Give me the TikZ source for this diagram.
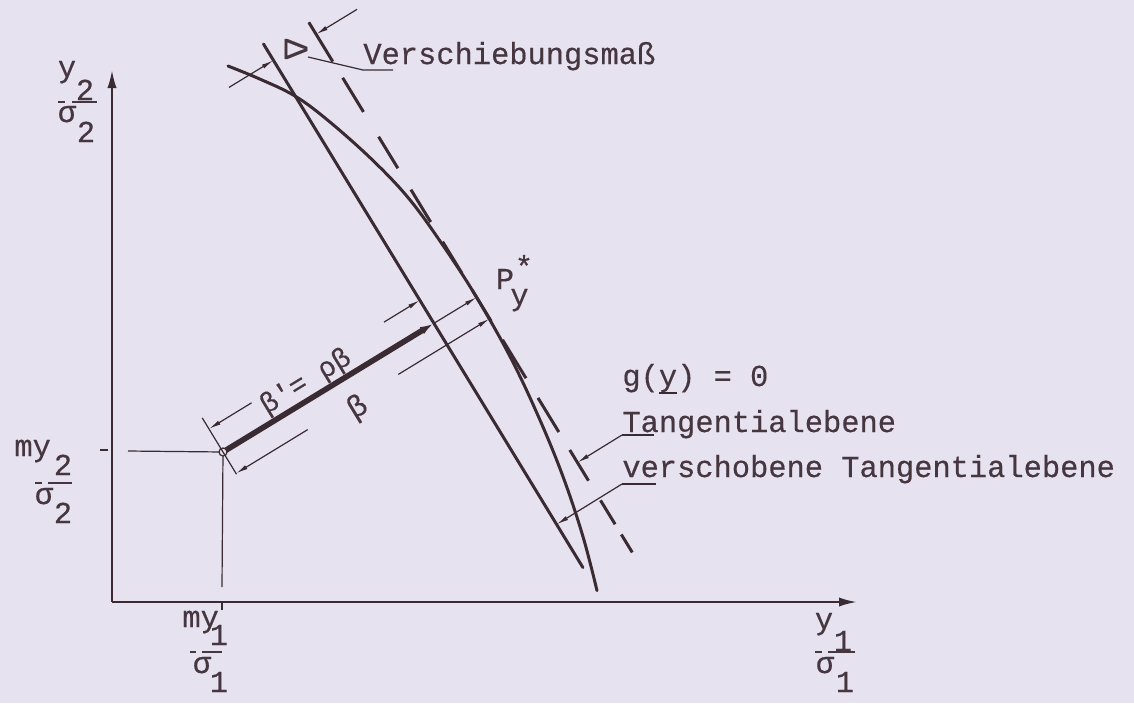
\documentclass[tikz,border=0pt]{standalone}
\usepackage{fontspec}
\setmainfont[FakeBold=0.4]{Liberation Mono}
\usetikzlibrary{arrows.meta,calc}
\definecolor{bg}{HTML}{E6E2F0}
\definecolor{ink}{HTML}{3A2A31}
\definecolor{txt}{HTML}{46363F}
\begin{document}
\begin{tikzpicture}[x=0.5pt,y=-0.5pt,
  axisline/.style={draw=ink, line width=1.1pt, -{Latex[length=9pt,width=4.6pt]}},
  mainline/.style={draw=ink, line width=1.5pt, line cap=round},
  thinline/.style={draw=ink, line width=0.6pt},
  dimarrow/.style={draw=ink, line width=0.6pt, -{Latex[length=6pt,width=2.2pt]}},
  barline/.style={draw=txt, line width=0.9pt},
  lbl/.style={text=txt, inner sep=0pt, font=\fontsize{15.2}{18}\selectfont},
]
\fill[bg] (0,0) rectangle (1134,703);
\useasboundingbox (0,0) rectangle (1134,703);

% key points
\coordinate (O) at (112,602);
\coordinate (Ytip) at (112,70);
\coordinate (Xtip) at (857,602);
\coordinate (m) at (223,452);
\coordinate (S) at (433.9,323.3);
\coordinate (P) at (476.6,297.3);
\coordinate (Stop) at (263.5,44.0);
\coordinate (Sbot) at (582.9,567.5);
\coordinate (Ttop) at (308.8,22.3);
\coordinate (Tbot) at (632.4,552.6);
\coordinate (E1) at (202.2,417.8);
\coordinate (E2) at (236.5,474.2);
\coordinate (B0) at (208.9,428.9);
\coordinate (B1) at (251.6,402.8);
\coordinate (B2) at (384,322.1);
\coordinate (B3) at (419.8,300.2);
\coordinate (C0) at (236,473.4);
\coordinate (C1) at (307.7,429.6);
\coordinate (C2) at (398.3,374.4);
\coordinate (C3) at (489.6,318.7);
\coordinate (D1) at (229,87.4);
\coordinate (D2) at (273.4,60.3);
\coordinate (D3) at (357.1,9.3);
\coordinate (D4) at (316.1,34.3);
\coordinate (hL) at (128,451);
\coordinate (vB) at (222,587);
\coordinate (tY1) at (100,450);
\coordinate (tY2) at (108,450);
\coordinate (tX1) at (222,603);
\coordinate (tX2) at (222,610);

% axes
\draw[axisline] (O) -- (Ytip);
\draw[axisline] (O) -- (Xtip);
\draw[thinline] (tY1) -- (tY2);
\draw[thinline] (tX1) -- (tX2);
\draw[thinline] (hL) -- (m);
\draw[thinline] (m) -- (vB);

% limit state curve g(y)=0
\draw[mainline] plot[smooth, tension=0.6] coordinates {(228,66) (258.8,78.6) (295.3,96.2) (329.9,122) (373.5,161) (409.8,199.7) (444,246.9) (476.6,297.3) (511,358.4) (540.1,420.3) (563.7,478.5) (583.1,537) (597,590.6)};

% shifted tangent plane
\draw[mainline] (Stop) -- (Sbot);

% tangent plane (dashed)
\draw[draw=ink, line width=1.5pt, line cap=butt,
  dash pattern=on 23pt off 9.5pt on 20pt off 14.5pt on 18.5pt off 12.5pt on 19pt off 11.5pt on 18.5pt off 10pt on 18pt off 11pt on 22.5pt off 11.5pt on 20pt off 10.5pt on 18pt off 11.5pt on 14pt off 6pt on 10.5pt off 10pt]
  (Ttop) -- (Tbot);

% beta line
\draw[draw=ink, line width=2.8pt, -{Latex[length=7pt,width=4pt]}] (m) -- (S);
\draw[dimarrow] (S) -- (P);
\node[circle, draw=ink, fill=bg, inner sep=0pt, minimum size=4pt, line width=0.6pt] (mc) at (m) {};

% extension line at m
\draw[thinline] (E1) -- (E2);

% beta' dimension
\draw[dimarrow] (B1) -- (B0);
\draw[dimarrow] (B2) -- (B3);
\node[lbl, rotate=31.4, font=\fontsize{14}{16}\selectfont] (lbp) at (306,382) {β\textquotesingle= ρβ};

% beta dimension
\draw[dimarrow] (C1) -- (C0);
\draw[dimarrow] (C2) -- (C3);
\node[lbl, rotate=31.4] (lb) at (358,408) {β};

% Delta dimension
\draw[dimarrow] (D1) -- (D2);
\draw[dimarrow] (D3) -- (D4);
\node[lbl, rotate=-90, font=\fontsize{17}{18}\selectfont] (delta) at (296,49) {Δ};

% Verschiebungsmass
\node[lbl, anchor=base west] (vm) at (363,64) {Verschiebungsmaß};
\coordinate (L1) at (308,57);
\coordinate (U1a) at (363,70);
\coordinate (U1b) at (393,70);
\draw[thinline] (L1) -- (U1a) -- (U1b);

% P_y^*
\node[lbl, anchor=base] (Pp) at (505,289) {P};
\node[lbl, anchor=base] (Py) at (519.5,305) {y};
\node[lbl, anchor=center] (Ps) at (524,266) {*};

% g(y) = 0
\node[lbl, anchor=base west] (gy) at (622,386) {g(y) = 0};
\coordinate (gu1) at (659,393);
\coordinate (gu2) at (677,393);
\draw[thinline] (gu1) -- (gu2);

% Tangentialebene
\node[lbl, anchor=base west] (te) at (622,432) {Tangentialebene};
\coordinate (U2a) at (622,435);
\coordinate (U2b) at (654,435);
\coordinate (T2) at (577.4,462.5);
\draw[thinline] (U2a) -- (U2b);
\draw[dimarrow] (U2a) -- (T2);

% verschobene Tangentialebene
\node[lbl, anchor=base west] (vte) at (622,477) {verschobene Tangentialebene};
\coordinate (U3a) at (622,484);
\coordinate (U3b) at (656,484);
\coordinate (T3) at (556.6,524.4);
\draw[thinline] (U3a) -- (U3b);
\draw[dimarrow] (U3a) -- (T3);

% y2/sigma2
\node[lbl, anchor=base] (y2a) at (67,77) {y};
\node[lbl, anchor=base] (y2b) at (85,100) {2};
\coordinate (y2f1) at (58,102); \coordinate (y2f2) at (65,102);
\coordinate (y2f3) at (72,102); \coordinate (y2f4) at (97,102);
\draw[barline] (y2f1) -- (y2f2); \draw[barline] (y2f3) -- (y2f4);
\node[lbl, anchor=base] (y2c) at (67,122) {σ};
\node[lbl, anchor=base] (y2d) at (86,142) {2};

% my2/sigma2
\node[lbl, anchor=base west] (m2a) at (14,456) {my};
\node[lbl, anchor=base] (m2b) at (63,475) {2};
\coordinate (m2f1) at (35,483); \coordinate (m2f2) at (42,483);
\coordinate (m2f3) at (48,483); \coordinate (m2f4) at (72,483);
\draw[barline] (m2f1) -- (m2f2); \draw[barline] (m2f3) -- (m2f4);
\node[lbl, anchor=base] (m2c) at (44,504) {σ};
\node[lbl, anchor=base] (m2d) at (63,523) {2};

% my1/sigma1
\node[lbl, anchor=base west] (m1a) at (182,627) {my};
\node[lbl, anchor=base] (m1b) at (219,645) {1};
\coordinate (m1f1) at (190,652); \coordinate (m1f2) at (196,652);
\coordinate (m1f3) at (202,652); \coordinate (m1f4) at (222,652);
\draw[barline] (m1f1) -- (m1f2); \draw[barline] (m1f3) -- (m1f4);
\node[lbl, anchor=base] (m1c) at (202,673) {σ};
\node[lbl, anchor=base] (m1d) at (219,692) {1};

% y1/sigma1
\node[lbl, anchor=base] (y1a) at (824,629) {y};
\node[lbl, anchor=base] (y1b) at (843,651) {1};
\coordinate (y1f1) at (815,652); \coordinate (y1f2) at (822,652);
\coordinate (y1f3) at (828,652); \coordinate (y1f4) at (855,652);
\draw[barline] (y1f1) -- (y1f2); \draw[barline] (y1f3) -- (y1f4);
\node[lbl, anchor=base] (y1c) at (825,673) {σ};
\node[lbl, anchor=base] (y1d) at (845,692) {1};
\end{tikzpicture}
\end{document}
